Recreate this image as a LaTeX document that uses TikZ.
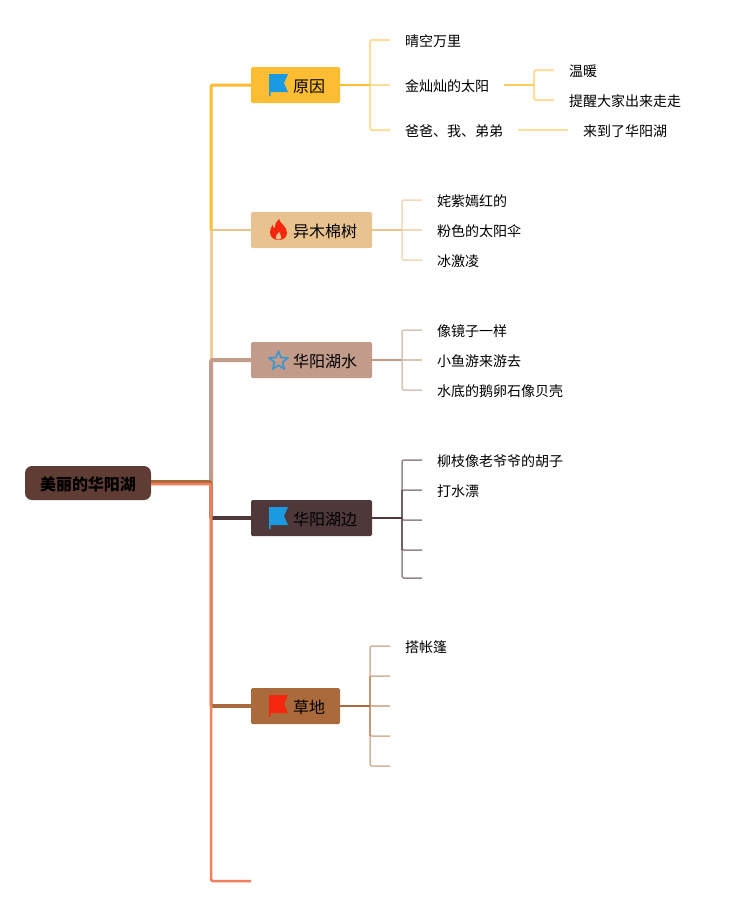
\documentclass[tikz,border=0pt]{standalone}
\usepackage{fontspec}
\setmainfont{Noto Sans CJK SC}
\definecolor{cA}{HTML}{FDBD33}
\definecolor{cB}{HTML}{E8C28F}
\definecolor{cC}{HTML}{C29B8B}
\definecolor{cD}{HTML}{4E383A}
\definecolor{cE}{HTML}{AB6A3B}
\definecolor{cF}{HTML}{F07F5E}
\definecolor{cRoot}{HTML}{5F3D35}
\definecolor{cBlue}{HTML}{1A9AE0}
\definecolor{cStar}{HTML}{3A96CE}
\definecolor{cRed}{HTML}{F5280F}
\definecolor{cPale}{HTML}{F0CC9A}
\tikzset{
  rootbox/.style={fill=cRoot,rounded corners=7pt,minimum width=126pt,minimum height=34pt,inner sep=0pt,font=\fontsize{16}{16}\selectfont\bfseries,text=black,text height=16pt,text depth=2pt},
  topicbox/.style={rounded corners=1.5pt,minimum height=36pt,inner sep=0pt,font=\fontsize{16}{16}\selectfont,text=black,text height=16pt,text depth=2pt},
  leaf/.style={anchor=west,inner xsep=15pt,inner ysep=0pt,text height=16pt,text depth=3pt,font=\fontsize{14}{14}\selectfont,text=black},
  conn/.style={line join=round,rounded corners=1.5pt},
  flagicon/.pic={\fill[#1] (-9.5,-11)--(9.5,-11)--(5.5,-2)--(9.5,7)--(-7.8,7)--(-7.8,11)--(-9.5,11)--cycle;},
  flameicon/.pic={
    \fill[cRed] (0.5,-11) .. controls (1.5,-6) and (8.5,-4) .. (8.5,3) .. controls (8.5,8) and (4,10) .. (0,10) .. controls (-5,10) and (-8.5,7) .. (-8.5,2) .. controls (-8.5,-1) and (-7,-3) .. (-6,-5) .. controls (-5.5,-3) and (-5,-2) .. (-3.5,-2) .. controls (-3.5,-6) and (-2,-9) .. (0.5,-11) -- cycle;
    \fill[cB] (0.5,2) .. controls (1,4.5) and (3.5,5.5) .. (2.8,8) .. controls (2.2,10) and (-2.2,10) .. (-2.8,8) .. controls (-3.3,5.5) and (-1,4.5) .. (0.5,2) -- cycle;},
  staricon/.pic={\draw[cStar,line width=1.6pt,line join=round,shift={(0,1)}]
    (90:-10)--(126:-4.2)--(162:-10)--(198:-4.2)--(234:-10)--(270:-4.2)--(306:-10)--(342:-4.2)--(18:-10)--(54:-4.2)--cycle;}
}
\begin{document}
\begin{tikzpicture}[x=1pt,y=-1pt]
\useasboundingbox (0,0) rectangle (741,906);
\node[rootbox] (root) at (88,483) {美丽的华阳湖};
\node[topicbox,fill=cA,minimum width=89pt] (t1) at (295.5,85) {\hspace{27pt}原因};
\node[topicbox,fill=cB,minimum width=121pt] (t2) at (311.5,230) {\hspace{27pt}异木棉树};
\node[topicbox,fill=cC,minimum width=121pt] (t3) at (311.5,360) {\hspace{27pt}华阳湖水};
\node[topicbox,fill=cD,minimum width=121pt] (t4) at (311.5,518) {\hspace{27pt}华阳湖边};
\node[topicbox,fill=cE,minimum width=89pt] (t5) at (295.5,706) {\hspace{27pt}草地};
\coordinate (t6) at (251,881);
\coordinate (j) at (211,483);
% icons
\pic at (278.5,85) {flagicon=cBlue};
\pic at (278.5,230) {flameicon};
\pic at (278.5,360) {staricon};
\pic at (278.5,518) {flagicon=cBlue};
\pic at (278.5,706) {flagicon=cRed};
% main connectors
\draw[conn,cPale,line width=3pt] (j) -- (211,230);
\draw[cB,line width=2pt] (211,230) -- (t2.west);
\draw[conn,cA,line width=3pt] (211,230) -- (211,85) -- (t1.west);
\draw[conn,cC,line width=4pt] (root.east) -- (j) |- (t3.west);
\draw[conn,cC,line width=4pt] (j) -- (211,518);
\draw[conn,cD,line width=4.5pt] (211,518) -- (t4.west);
\draw[conn,cE,line width=3pt] ([yshift=1.5pt]root.east) -- (211,481.5) -- (211,706);
\draw[conn,cE,line width=4pt] (211,706) -- (t5.west);
\draw[conn,cF,line width=2.5pt] ([yshift=-1pt]root.east) -- (211,484) |- (t6);
% leaves of t1
\node[leaf] (a1) at (390,40) {晴空万里};
\node[leaf] (a2) at (390,85) {金灿灿的太阳};
\node[leaf] (a3) at (390,130) {爸爸、我、弟弟};
\node[leaf] (a21) at (554,70) {温暖};
\node[leaf] (a22) at (554,100) {提醒大家出来走走};
\node[leaf] (a31) at (568,130) {来到了华阳湖};
\coordinate (sa) at (370,85);
\coordinate (sb) at (534,85);
\begin{scope}[cA!50!white,line width=2pt]
\draw[conn] (sa) |- (a1.west);
\draw[conn] (sa) |- (a3.west);
\draw (sa) -- (a2.west);
\draw[conn] (sb) |- (a21.west);
\draw[conn] (sb) |- (a22.west);
\draw (a3.east) -- (a31.west);
\end{scope}
\draw[cA,line width=2pt] (t1.east) -- (sa);
\draw[cA!80!white,line width=2pt] (a2.east) -- (sb);
% leaves of t2
\node[leaf] (b1) at (422,200) {姹紫嫣红的};
\node[leaf] (b2) at (422,230) {粉色的太阳伞};
\node[leaf] (b3) at (422,260) {冰激凌};
\coordinate (sc) at (402,230);
\begin{scope}[cB!60!white,line width=1.5pt]
\draw[conn] (sc) |- (b1.west);
\draw[conn] (sc) |- (b3.west);
\draw (sc) -- (b2.west);
\end{scope}
\draw[cB,line width=2pt] (t2.east) -- (sc);
% leaves of t3
\node[leaf] (c1) at (422,330) {像镜子一样};
\node[leaf] (c2) at (422,360) {小鱼游来游去};
\node[leaf] (c3) at (422,390) {水底的鹅卵石像贝壳};
\coordinate (sd) at (402,360);
\begin{scope}[cC!60!white,line width=1.5pt]
\draw[conn] (sd) |- (c1.west);
\draw[conn] (sd) |- (c3.west);
\draw (sd) -- (c2.west);
\end{scope}
\draw[cC,line width=2pt] (t3.east) -- (sd);
% leaves of t4
\node[leaf] (d1) at (422,460) {柳枝像老爷爷的胡子};
\node[leaf] (d2) at (422,490) {打水漂};
\coordinate (d3) at (422,520);
\coordinate (d4) at (422,550);
\coordinate (d5) at (422,578);
\coordinate (se) at (402,518);
\begin{scope}[cD!60!white,line width=1.5pt]
\draw[conn] (se) |- (d1.west);
\draw[conn] (se) |- (d5.west);
\draw[conn] (se) |- (d2.west);
\draw[conn] (se) |- (d3);
\draw[conn] (se) |- (d4);
\end{scope}
\draw[cD!80!white,line width=1.5pt] (402,490) -- (402,550);
\draw[cD,line width=2pt] (t4.east) -- (se);
% leaves of t5
\node[leaf] (e1) at (390,646) {搭帐篷};
\coordinate (e2) at (390,676);
\coordinate (e3) at (390,706);
\coordinate (e4) at (390,736);
\coordinate (e5) at (390,766);
\coordinate (sf) at (370,706);
\begin{scope}[cE!50!white,line width=1.5pt]
\draw[conn] (sf) |- (e1.west);
\draw[conn] (sf) |- (e2);
\draw (sf) -- (e3);
\draw[conn] (sf) |- (e4);
\draw[conn] (sf) |- (e5);
\end{scope}
\draw[cE!70!white,line width=1.5pt] (370,676) -- (370,736);
\draw[cE,line width=2pt] (t5.east) -- (sf);
\end{tikzpicture}
\end{document}
